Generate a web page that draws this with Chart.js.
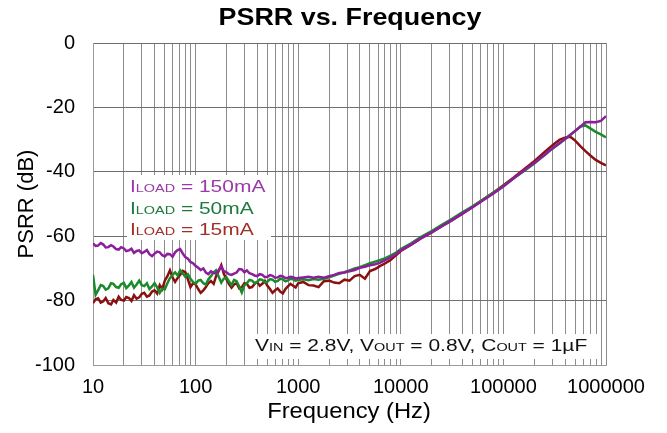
<!DOCTYPE html>
<html>
<head>
<meta charset="utf-8">
<title>PSRR vs. Frequency</title>
<script src="https://cdn.jsdelivr.net/npm/chart.js@4.4.1/dist/chart.umd.min.js"></script>
<style>
  html, body { margin: 0; padding: 0; background: #fff; }
  #psrr { display: block; }
</style>
</head>
<body>
<canvas id="psrr" width="667" height="433"></canvas>
<script>
const FONT = "'Liberation Sans', Arial, Helvetica, sans-serif";

// sweep frequencies (Hz): 40 pts/decade up to 1 kHz, then coarser
const freqHz = [
  10, 10.6, 11.2, 11.9, 12.6, 13.3, 14.1, 15.0, 15.8, 16.8, 17.8, 18.8, 20, 21.1, 22.4, 23.7, 25.1, 26.6, 28.2, 29.9,
  31.6, 33.5, 35.5, 37.6, 39.8, 42.2, 44.7, 47.3, 50.1, 53.1, 56.2, 59.6, 63.1, 66.8, 70.8, 75.0, 79.4, 84.1, 89.1, 94.4,
  100, 106, 112, 119, 126, 133, 141, 150, 158, 168, 178, 188, 200, 211, 224, 237, 251, 266, 282, 299,
  316, 335, 355, 376, 398, 422, 447, 473, 501, 531, 562, 596, 631, 668, 708, 750, 794, 841, 891, 944,
  1000, 1120, 1260, 1410, 1580, 1780, 2000, 2240, 2510, 2820, 3160, 3550, 3980, 4470, 5010, 5620, 6310, 7080, 7940, 8910,
  10000, 12600, 15800, 20000, 25100, 31600, 39800, 50100, 63100, 79400,
  100000, 126000, 158000, 200000, 224000, 251000, 282000, 316000, 355000, 398000, 447000, 501000, 562000, 631000, 708000, 794000, 891000,
  1000000
];

// PSRR (dB) per load current
const psrr150mA = [
  -62.2, -63.0, -62.9, -62.1, -62.6, -63.5, -63.4, -62.8, -63.2, -64.0, -64.2, -63.4, -63.8, -64.6, -64.4, -63.9, -65.2, -64.6, -64.4, -65.3,
  -64.9, -64.3, -65.6, -66.2, -65.4, -64.8, -65.0, -65.9, -66.3, -65.5, -65.6, -66.4, -65.0, -64.3, -64.0, -65.4, -66.5, -67.0, -68.0, -68.4,
  -69.2, -69.8, -70.5, -70.0, -71.3, -71.8, -70.9, -71.4, -71.6, -70.5, -69.4, -70.8, -71.2, -71.8, -72.0, -71.6, -71.3, -70.2, -70.3, -71.2,
  -70.6, -71.5, -71.8, -72.2, -72.4, -71.8, -72.0, -72.7, -72.6, -72.1, -72.3, -72.9, -72.8, -72.3, -72.5, -73.0, -72.9, -72.6, -72.7, -73.1,
  -73.0, -72.8, -72.6, -72.9, -72.6, -72.9, -72.4, -72.0, -71.4, -71.3, -70.9, -70.5, -69.8, -69.5, -69.0, -68.7, -68.2, -67.4, -66.6, -65.6,
  -64.4, -62.6, -60.6, -58.8, -56.9, -55.0, -53.0, -51.0, -48.9, -46.8,
  -44.6, -42.0, -39.6, -37.3, -36.0, -34.8, -33.4, -32.2, -31.0, -29.8, -28.6, -27.3, -26.0, -24.6, -24.5, -24.6, -24.2,
  -22.7
];
const psrr50mA = [
  -72.0, -78.2, -76.8, -75.2, -75.5, -76.6, -76.2, -74.6, -74.8, -75.8, -76.0, -74.9, -74.5, -76.1, -75.3, -74.2, -76.0, -75.0, -73.8, -75.2,
  -75.5, -74.6, -76.4, -75.6, -74.6, -75.9, -77.6, -76.3, -76.5, -74.6, -73.0, -72.0, -71.2, -72.2, -70.6, -71.6, -72.6, -71.8, -73.2, -74.2,
  -74.8, -73.8, -73.6, -74.6, -75.0, -73.4, -72.4, -71.2, -70.6, -72.6, -74.4, -73.2, -72.8, -74.0, -75.2, -73.6, -74.0, -75.6, -77.5, -75.2,
  -74.6, -73.6, -73.8, -74.6, -74.2, -73.4, -73.6, -74.4, -74.1, -73.3, -73.5, -74.2, -73.9, -73.2, -73.4, -74.0, -73.7, -73.2, -73.4, -73.8,
  -73.6, -73.4, -73.7, -73.3, -73.5, -73.2, -72.8, -72.2, -71.7, -71.2, -70.6, -70.0, -69.6, -69.0, -68.4, -67.9, -67.4, -66.8, -66.0, -65.2,
  -64.0, -62.2, -60.2, -58.4, -56.5, -54.6, -52.6, -50.7, -48.6, -46.5,
  -44.4, -42.0, -39.8, -37.4, -36.1, -34.9, -33.5, -32.3, -31.1, -29.9, -28.6, -27.3, -25.9, -25.6, -26.6, -27.6, -28.4,
  -29.3
];
const psrr15mA = [
  -80.8, -79.6, -79.3, -80.6, -80.2, -79.2, -80.8, -81.2, -79.8, -80.6, -78.8, -79.8, -80.0, -78.9, -79.2, -80.1, -78.3, -79.4, -79.0, -77.9,
  -77.6, -78.8, -78.4, -77.2, -76.8, -77.8, -75.2, -76.4, -73.8, -72.4, -70.6, -72.8, -74.2, -73.0, -72.0, -70.8, -71.2, -73.4, -75.8, -74.6,
  -75.0, -76.4, -77.6, -76.8, -75.8, -74.6, -73.9, -74.8, -72.5, -70.8, -69.0, -71.6, -73.4, -74.8, -76.0, -75.0, -74.6, -76.2, -75.8, -74.6,
  -74.8, -76.0, -75.8, -74.8, -74.2, -75.4, -74.8, -73.9, -75.4, -76.4, -77.6, -76.8, -76.2, -77.2, -77.8, -76.4, -75.6, -74.8, -75.4, -75.9,
  -74.6, -74.2, -75.2, -75.3, -75.8, -74.0, -73.8, -74.4, -74.6, -73.5, -73.8, -72.4, -72.0, -73.2, -70.8, -70.2, -69.2, -68.4, -67.4, -66.0,
  -64.6, -62.6, -60.6, -58.8, -56.9, -55.0, -53.0, -50.9, -48.7, -46.5,
  -44.2, -41.8, -39.3, -36.7, -35.3, -33.9, -32.5, -31.2, -30.0, -29.4, -29.1, -30.3, -32.0, -33.6, -35.0, -36.3, -37.2,
  -38.0
];

const decades = [10, 100, 1000, 10000, 100000, 1000000];
const decadeLabels = ['10', '100', '1000', '10000', '100000', '1000000'];
const yTicks = [0, -20, -40, -60, -80, -100];
const loadLabels = ['150mA', '50mA', '15mA'];
const lineColors = ['#8c1d9c', '#1b8a2c', '#8a1010'];
const textColors = ['#9a3aa8', '#1d7a3c', '#a03028'];

// every 1..9 step inside each decade gets a grid line
const xGrid = [];
decades.forEach((d, k) => {
  for (let m = 1; m <= 9; m++) {
    if (k === decades.length - 1 && m > 1) break;
    xGrid.push(d * m);
  }
});

// text with small-caps style subscripts, optionally stretched sideways
function richText(c, x, y, parts, sx) {
  c.save();
  c.translate(x, y);
  c.scale(sx, 1);
  let cx = 0;
  parts.forEach(([t, size]) => {
    c.font = size + 'px ' + FONT;
    c.fillText(t, cx, 0);
    cx += c.measureText(t).width;
  });
  c.restore();
}

const overlay = {
  id: 'overlay',
  beforeDatasetsDraw(chart) {
    const c = chart.ctx;
    c.save();
    c.fillStyle = '#fff';
    c.fillRect(127, 175, 144, 65);
    c.fillRect(246, 334, 354, 25);
    c.restore();
  },
  afterDraw(chart) {
    const c = chart.ctx;
    c.save();
    c.textBaseline = 'alphabetic';
    c.textAlign = 'left';
    loadLabels.forEach((lbl, i) => {
      c.fillStyle = textColors[i];
      richText(c, 130, 192 + i * 21.6, [['I', 16], ['LOAD', 11], [' = ' + lbl, 16]], 1.31);
    });
    c.fillStyle = '#111';
    richText(c, 255, 351, [
      ['V', 16], ['IN', 11], [' = 2.8V, V', 16], ['OUT', 11], [' = 0.8V, C', 16], ['OUT', 11], [' = 1\u00b5F', 16]
    ], 1.31);

    c.fillStyle = '#000';
    c.textAlign = 'center';
    c.textBaseline = 'middle';
    c.font = 'bold 24px ' + FONT;
    c.save();
    c.translate(350, 18);
    c.scale(1.12, 1);
    c.fillText('PSRR vs. Frequency', 0, 0);
    c.restore();

    c.font = '22px ' + FONT;
    c.save();
    c.translate(349, 412);
    c.scale(1.08, 1);
    c.fillText('Frequency (Hz)', 0, 0);
    c.restore();

    c.save();
    c.translate(27, 204);
    c.rotate(-Math.PI / 2);
    c.fillText('PSRR (dB)', 0, 0);
    c.restore();
    c.restore();
  }
};

const gridColor = '#8c8c8c';

new Chart(document.getElementById('psrr'), {
  type: 'line',
  data: {
    datasets: [psrr150mA, psrr50mA, psrr15mA].map((vals, i) => ({
      label: 'ILOAD = ' + loadLabels[i],
      data: freqHz.map((f, j) => ({ x: f, y: vals[j] })),
      borderColor: lineColors[i],
      borderWidth: 2.5,
      pointRadius: 0,
      tension: 0,
      fill: false
    }))
  },
  options: {
    responsive: false,
    animation: false,
    events: [],
    layout: { padding: { left: 0, top: 43, right: 61, bottom: 0 } },
    plugins: { legend: { display: false }, tooltip: { enabled: false } },
    scales: {
      x: {
        type: 'logarithmic',
        min: 10,
        max: 1000000,
        afterBuildTicks: (s) => { s.ticks = xGrid.map((v) => ({ value: v })); },
        afterFit: (s) => { s.height = 68; },
        grid: { color: gridColor, lineWidth: 1, drawTicks: false },
        border: { color: '#999' },
        ticks: {
          autoSkip: false,
          maxRotation: 0,
          padding: 10,
          color: '#000',
          font: { family: FONT, size: 20 },
          callback: (v) => {
            const k = decades.indexOf(v);
            return k >= 0 ? decadeLabels[k] : '';
          }
        }
      },
      y: {
        min: -100,
        max: 0,
        afterBuildTicks: (s) => { s.ticks = yTicks.map((v) => ({ value: v })); },
        afterFit: (s) => { s.width = 93; },
        grid: { color: '#6e6e6e', lineWidth: 1, drawTicks: false },
        border: { color: '#999' },
        ticks: { padding: 18, color: '#000', font: { family: FONT, size: 20 } }
      }
    }
  },
  plugins: [overlay]
});
</script>
</body>
</html>
